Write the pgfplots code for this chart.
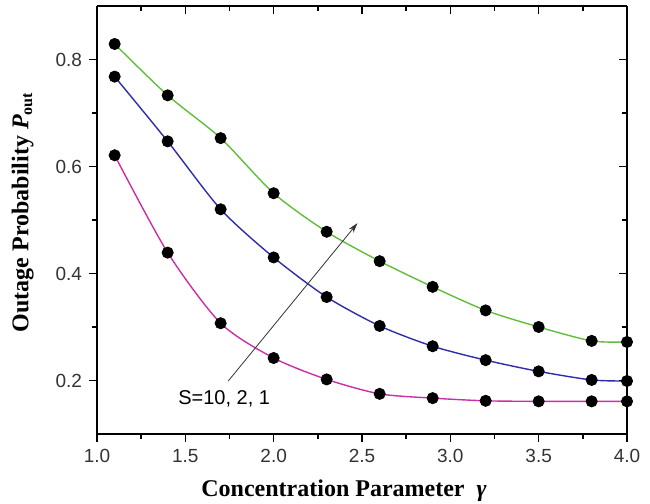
\documentclass[border=0pt]{standalone}
\usepackage{fontspec}
\setmainfont{Liberation Serif}
\setsansfont{Liberation Sans}
\usepackage{pgfplots}
\pgfplotsset{compat=1.18}
\usetikzlibrary{arrows.meta,calc}

\definecolor{cgreen}{RGB}{95,190,60}
\definecolor{cblue}{RGB}{45,45,170}
\definecolor{cmag}{RGB}{205,45,165}

\pgfplotsset{
  outbox/.style={
    scale only axis, width=265pt, height=214pt,
    xmin=1.0, xmax=4.0, ymin=0.1, ymax=0.9,
    xtick={1.0,1.5,...,4.0}, ytick={0.2,0.4,0.6,0.8},
    minor x tick num=1, minor y tick num=1,
    major tick length=4pt, minor tick length=2.5pt,
    every tick/.style={black, line width=0.8pt},
    axis line style={line width=1pt},
  }
}

\begin{document}
\begin{tikzpicture}
\begin{axis}[outbox, name=main,
  axis x line*=bottom, axis y line*=left,
  axis line style={line width=1pt, -},
  tick align=outside,
  xticklabel style={/pgf/number format/fixed, /pgf/number format/fixed zerofill, /pgf/number format/precision=1},
  yticklabel style={/pgf/number format/fixed, /pgf/number format/fixed zerofill, /pgf/number format/precision=1},
  /pgf/number format/assume math mode=true,
  tick label style={font=\sffamily\fontsize{9.5}{11}\selectfont, text=black!80},
  xlabel={\textbf{Concentration Parameter\ \ \textit{γ}}},
  ylabel={\textbf{Outage Probability \textit{P}\textsubscript{out}}},
  label style={font=\fontsize{12}{14}\selectfont},
  xlabel style={yshift=-2pt, xshift=-9pt},
  ylabel style={yshift=4pt, xshift=4pt},
  clip=false]

\addplot[cgreen, line width=0.7pt, smooth, tension=0.45] coordinates {
  (1.1,0.829) (1.4,0.733) (1.7,0.653) (2.0,0.550) (2.3,0.478) (2.6,0.423)
  (2.9,0.375) (3.2,0.331) (3.5,0.300) (3.8,0.274) (4.0,0.272)};
\addplot[cblue, line width=0.7pt, smooth, tension=0.45] coordinates {
  (1.1,0.768) (1.4,0.647) (1.7,0.520) (2.0,0.430) (2.3,0.356) (2.6,0.302)
  (2.9,0.264) (3.2,0.238) (3.5,0.217) (3.8,0.201) (4.0,0.199)};
\addplot[cmag, line width=0.7pt, smooth, tension=0.45] coordinates {
  (1.1,0.621) (1.4,0.439) (1.7,0.307) (2.0,0.242) (2.3,0.202) (2.6,0.175)
  (2.9,0.167) (3.2,0.162) (3.5,0.161) (3.8,0.161) (4.0,0.161)};

% the dots
\addplot[only marks, mark=*, mark size=2.8pt, black] coordinates {
  (1.1,0.829) (1.4,0.733) (1.7,0.653) (2.0,0.550) (2.3,0.478) (2.6,0.423)
  (2.9,0.375) (3.2,0.331) (3.5,0.300) (3.8,0.274) (4.0,0.272)};
\addplot[only marks, mark=*, mark size=2.8pt, black] coordinates {
  (1.1,0.768) (1.4,0.647) (1.7,0.520) (2.0,0.430) (2.3,0.356) (2.6,0.302)
  (2.9,0.264) (3.2,0.238) (3.5,0.217) (3.8,0.201) (4.0,0.199)};
\addplot[only marks, mark=*, mark size=2.8pt, black] coordinates {
  (1.1,0.621) (1.4,0.439) (1.7,0.307) (2.0,0.242) (2.3,0.202) (2.6,0.175)
  (2.9,0.167) (3.2,0.162) (3.5,0.161) (3.8,0.161) (4.0,0.161)};

\draw[black!80, line width=0.4pt, -{Stealth[length=5pt,width=3pt]}]
  (axis cs:1.743,0.199) -- (axis cs:2.474,0.494);
\node[font=\sffamily\fontsize{10}{12}\selectfont, anchor=center]
  at (axis cs:1.72,0.165) {S=10, 2, 1};
\end{axis}

\begin{axis}[outbox,
  axis x line*=top, axis y line*=right,
  axis line style={line width=1pt, -},
  tick align=inside,
  xticklabels={}, yticklabels={}]
\end{axis}

% page the size of the reference
\pgfresetboundingbox
\path ($(main.south west)+(-48.5pt,-35pt)$) rectangle ($(main.north east)+(11.5pt,3pt)$);
\end{tikzpicture}
\end{document}
